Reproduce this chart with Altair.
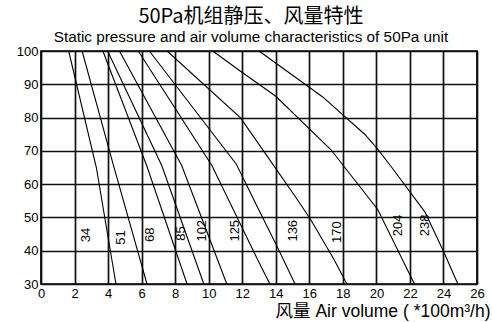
import altair as alt
import pandas as pd

# Fan curves: air volume (x100 m3/h) vs static pressure (Pa), one per unit model
MODELS = ["34", "51", "68", "85", "102", "125", "136", "170", "204", "238"]

Q_34 = [1.65, 3.30, 4.47]
P_34 = [100, 65, 30]
Q_51 = [2.45, 4.30, 6.32]
P_51 = [100, 66, 30]
Q_68 = [3.69, 6.30, 8.71]
P_68 = [100, 65.6, 30]
Q_85 = [3.97, 7.20, 9.71]
P_85 = [100, 65.6, 30]
Q_102 = [4.68, 8.39, 11.08]
P_102 = [100, 65.6, 30]
Q_125 = [5.80, 10.19, 12.95, 13.65]
P_125 = [100, 65.6, 37, 30]
Q_136 = [6.46, 11.65, 12.86, 14.05, 15.15]
P_136 = [100, 66, 53.6, 41.6, 30]
Q_170 = [7.52, 11.90, 13.90, 15.25, 16.05, 17.45, 18.24]
P_170 = [100, 79.9, 65.4, 55.6, 49.6, 37.6, 30]
Q_204 = [10.24, 11.90, 14.00, 17.28, 20.08, 22.27]
P_204 = [100, 93.9, 86.4, 70.4, 52.4, 30]
Q_238 = [13.00, 16.80, 19.30, 20.08, 20.92, 22.90, 24.04, 24.86]
P_238 = [100, 86.2, 75, 70.5, 65, 51.6, 39.4, 30]

CURVES_Q = [Q_34, Q_51, Q_68, Q_85, Q_102, Q_125, Q_136, Q_170, Q_204, Q_238]
CURVES_P = [P_34, P_51, P_68, P_85, P_102, P_125, P_136, P_170, P_204, P_238]

# Model label anchor points
LABEL_Q = [2.70, 4.78, 6.50, 8.35, 9.60, 11.55, 15.05, 17.64, 21.31, 22.87]
LABEL_P = [44.7, 44.0, 44.8, 45.2, 46.0, 46.0, 46.0, 45.6, 47.6, 47.6]

X_TICKS = list(range(0, 27, 2))
Y_TICKS = list(range(30, 101, 10))

rows = []
for name, qs, ps in zip(MODELS, CURVES_Q, CURVES_P):
    for i, (q, p) in enumerate(zip(qs, ps)):
        rows.append({"model": name, "q": q, "p": p, "i": i})
curves = pd.DataFrame(rows)
labels = pd.DataFrame({"model": MODELS, "q": LABEL_Q, "p": LABEL_P})

LATIN = "Liberation Sans"
CJK = "Liberation Sans, Noto Sans CJK SC"

x_scale = alt.Scale(domain=[0, 26], nice=False, zero=False)
y_scale = alt.Scale(domain=[30, 100], nice=False, zero=False)

x_axis = alt.Axis(
    values=X_TICKS, title="风量 Air volume ( *100m³/h)", grid=True,
    ticks=False, tickSize=0, domain=False, labelFlush=False,
    labelOverlap=False,
    labelFont=LATIN, labelFontSize=13, labelColor="#000", labelPadding=3,
    titleFont=CJK, titleFontSize=17.5, titleFontWeight="normal",
    titleColor="#000", titleAlign="right", titleAnchor="end",
    titleX=449, titleY=32, titleBaseline="alphabetic",
    gridColor="#111", gridWidth=1.7, gridOpacity=1,
)
y_axis = alt.Axis(
    values=Y_TICKS, title=None, grid=True, ticks=False, tickSize=0,
    domain=False, labelFlush=False, labelOverlap=False,
    labelFont=LATIN, labelFontSize=13,
    labelColor="#000", labelPadding=3,
    gridColor="#111", gridWidth=1.7, gridOpacity=1,
)

lines = alt.Chart(curves).mark_line(color="#000", strokeWidth=1.1).encode(
    x=alt.X("q:Q", scale=x_scale, axis=x_axis),
    y=alt.Y("p:Q", scale=y_scale, axis=y_axis),
    detail="model:N",
    order="i:Q",
)

text = alt.Chart(labels).mark_text(
    angle=270, font=LATIN, fontSize=13, color="#000",
    align="center", baseline="middle",
).encode(
    x=alt.X("q:Q", scale=x_scale, axis=x_axis),
    y=alt.Y("p:Q", scale=y_scale, axis=y_axis),
    text="model:N",
)

chart = (
    alt.layer(lines, text)
    .properties(
        width=436,
        height=233,
        background="white",
        autosize=alt.AutoSizeParams(type="none"),
        padding={"left": 41, "top": 51, "right": 15, "bottom": 38},
        title=alt.TitleParams(
            text="50Pa机组静压、风量特性",
            subtitle="Static pressure and air volume characteristics of 50Pa unit",
            font="Noto Sans CJK SC", fontSize=20, fontWeight="normal",
            color="#000", subtitleFont=LATIN, subtitleFontSize=15.3,
            subtitleColor="#000", subtitlePadding=3, anchor="middle",
            offset=0, dx=-8,
        ),
    )
    .configure_view(stroke="#000", strokeWidth=1.7)
)

chart.save("out.html", embed_options={"renderer": "svg", "actions": False})
